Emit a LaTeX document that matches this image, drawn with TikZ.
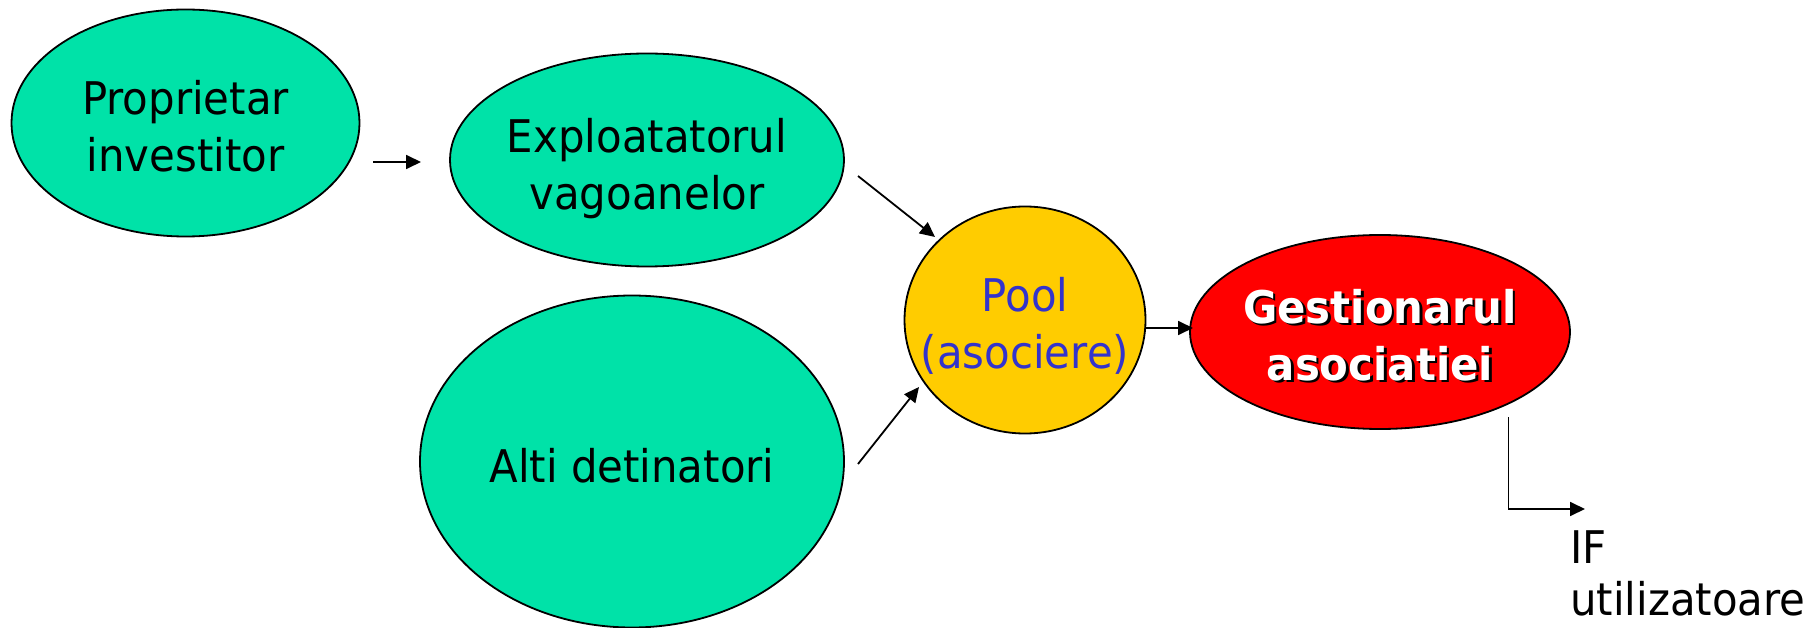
\documentclass[tikz,border=0pt]{standalone}
\usepackage{fontspec}
\setmainfont[FakeStretch=0.93]{DejaVu Sans}
\usetikzlibrary{arrows.meta,shapes.geometric}
\definecolor{vgreen}{HTML}{00E2A8}
\definecolor{vyellow}{HTML}{FFCC00}
\definecolor{vred}{HTML}{FF0000}
\definecolor{vblue}{HTML}{3333CC}
\begin{document}
\begin{tikzpicture}[x=1pt,y=-1pt,
  blob/.style={ellipse, draw=black, line width=1.8pt, inner sep=0pt},
  txt/.style={align=center, inner sep=0pt, font=\fontsize{45}{57}\selectfont},
  conn/.style={line width=1.8pt, -{Triangle[length=15pt,width=14pt]}},
]
\useasboundingbox (0,0) rectangle (1818,628);
\node[blob, fill=vgreen, minimum width=348pt, minimum height=227pt] (p) at (185.5,123) {};
\node[txt] (pt) at (185.5,126) {Proprietar\\investitor};
\node[blob, fill=vgreen, minimum width=394pt, minimum height=213pt] (e) at (647,160) {};
\node[txt] (et) at (647,169) {Exploatatorul\\vagoanelor};
\node[blob, fill=vgreen, minimum width=424pt, minimum height=332pt] (a) at (632,461.5) {};
\node[txt] (at) at (632,466) {Alti detinatori};
\node[blob, fill=vyellow, minimum width=241pt, minimum height=227pt] (pool) at (1025,320) {};
\node[txt, text=vblue] (poolt) at (1025,326) {Pool\\(asociere)};
\node[blob, fill=vred, minimum width=380pt, minimum height=194pt] (g) at (1380,332) {};
\foreach \dx/\dy/\c in {2.5/2.5/black, 0/0/white}{
  \node[txt, text=\c, font=\fontsize{45}{57}\bfseries\selectfont] at ([xshift=\dx pt,yshift=-\dy pt]1380,335) {Gestionarul\\asociatiei};
}
\node[anchor=north west, align=left, inner sep=0pt, font=\fontsize{45}{52}\selectfont] (if) at (1570,530) {IF\\utilizatoare};
\coordinate (a1s) at (373,162); \coordinate (a1e) at (421,162);
\coordinate (a2s) at (858,176); \coordinate (a2e) at (935,237);
\coordinate (a3s) at (858,464); \coordinate (a3e) at (919,387);
\coordinate (a4s) at (1146,328); \coordinate (a4e) at (1193,328);
\coordinate (a5s) at (1508.5,417); \coordinate (a5e) at (1585,509);
\draw[conn] (a1s) -- (a1e);
\draw[conn] (a2s) -- (a2e);
\draw[conn] (a3s) -- (a3e);
\draw[conn] (a4s) -- (a4e);
\draw[conn] (a5s) |- (a5e);
\end{tikzpicture}
\end{document}
